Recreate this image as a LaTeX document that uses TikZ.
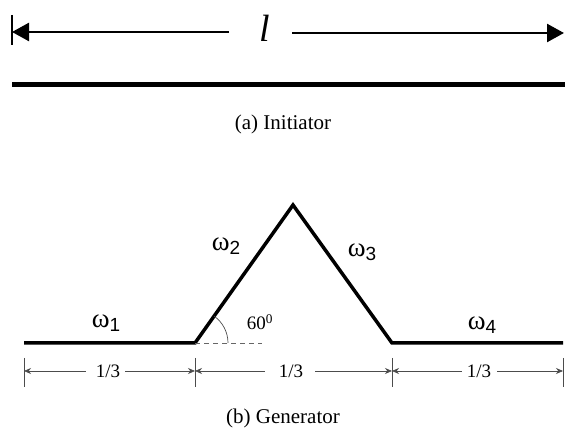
\documentclass[tikz,border=0pt]{standalone}
\usepackage{fontspec}
\setmainfont{Liberation Serif}
\newfontfamily\omfont{Liberation Sans}
\usetikzlibrary{arrows.meta}
\tikzset{
  bigarrow/.style={-{Triangle[length=17pt,width=18pt]},line width=2.5pt},
  dimline/.style={-{Stealth[length=7pt,width=6pt]},line width=0.7pt,black!70},
  tickline/.style={line width=0.8pt,black!70},
  seg/.style={line width=3.5pt,line join=miter},
  om/.style={font=\fontsize{27}{27}\selectfont,inner sep=0pt},
  captext/.style={font=\fontsize{21}{21}\selectfont,inner sep=0pt},
  frac/.style={font=\fontsize{19}{19}\selectfont,inner sep=0pt}
}
\newcommand{\omsub}[1]{ω\raisebox{-0.3ex}{\omfont\fontsize{19}{19}\selectfont #1}}
\begin{document}
\begin{tikzpicture}[x=1pt,y=1pt]
\useasboundingbox (0,0) rectangle (565,438);
% initiator
\coordinate (bt) at (12,423);
\coordinate (bb) at (12,393);
\draw[line width=2pt] (bt) -- (bb);
\node[inner sep=0pt,font=\fontsize{38}{38}\selectfont\itshape] (l) at (265,410) {l};
\coordinate (la) at (229,406);
\coordinate (lb) at (12,406);
\coordinate (ra) at (292,405);
\coordinate (rb) at (564,405);
\draw[bigarrow] (la) -- (lb);
\draw[bigarrow] (ra) -- (rb);
\coordinate (i1) at (12,353);
\coordinate (i2) at (565,353);
\draw[line width=5pt] (i1) -- (i2);
\node[captext] (capa) at (283,314) {(a) Initiator};
% generator
\coordinate (A) at (24,95);
\coordinate (B) at (195,95);
\coordinate (C) at (293,233);
\coordinate (D) at (392,95);
\coordinate (E) at (563,95);
\draw[seg] (A) -- (B) -- (C) -- (D) -- (E);
\coordinate (Bd) at (262,95);
\draw[dashed,black!60,line width=0.7pt,dash pattern=on 5pt off 4pt] (B) -- (Bd);
\draw[black!70,line width=0.7pt] ([shift={(0:33)}]B) arc[start angle=0,end angle=54.6,radius=33];
\node[om] (w1) at (106,115) {\omsub{1}};
\node[om] (w2) at (226,192) {\omsub{2}};
\node[om] (w3) at (362,186) {\omsub{3}};
\node[om] (w4) at (482,113) {\omsub{4}};
\node[font=\fontsize{19}{19}\selectfont,inner sep=0pt] (ang) at (260,116) {60\textsuperscript{0}};
% dimensions
\foreach \n/\x in {t1/24,t2/195,t3/392,t4/563}{
  \coordinate (\n a) at (\x,80);
  \coordinate (\n b) at (\x,51);
  \coordinate (\n) at (\x,67);
  \draw[tickline] (\n a) -- (\n b);
}
\node[frac] (f1) at (108,67) {1/3};
\node[frac] (f2) at (291,67) {1/3};
\node[frac] (f3) at (479,67) {1/3};
\draw[dimline] ([xshift=-10pt]f1.west) -- (t1);
\draw[dimline] ([xshift=5pt]f1.east) -- (t2);
\draw[dimline] ([xshift=-14pt]f2.west) -- (t2);
\draw[dimline] ([xshift=12pt]f2.east) -- (t3);
\draw[dimline] ([xshift=-5pt]f3.west) -- (t3);
\draw[dimline] ([xshift=6pt]f3.east) -- (t4);
\node[captext] (capb) at (283,20) {(b) Generator};
\end{tikzpicture}
\end{document}
